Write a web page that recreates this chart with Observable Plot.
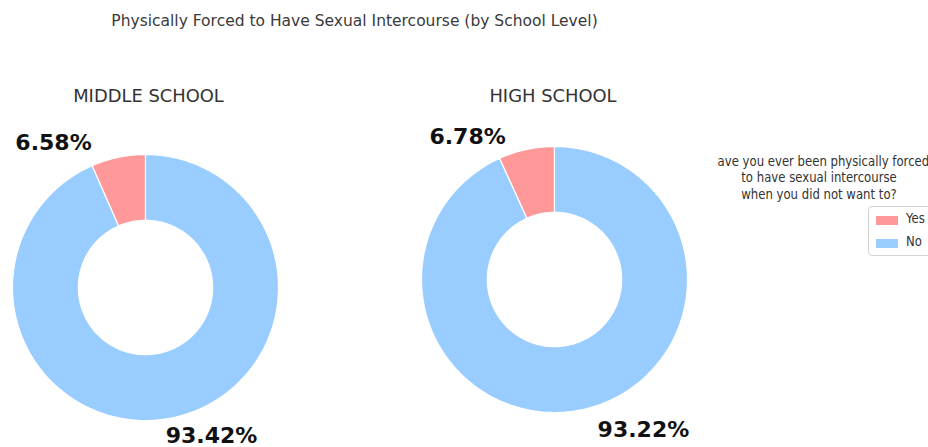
<!DOCTYPE html>
<html>
<head>
<meta charset="utf-8">
<script src="https://cdn.jsdelivr.net/npm/d3@7"></script>
<script src="https://cdn.jsdelivr.net/npm/@observablehq/plot@0.6"></script>
<style>
  html, body { margin: 0; padding: 0; background: #fff; }
  #root { position: relative; width: 928px; height: 447px; overflow: hidden; font-family: "DejaVu Sans", sans-serif; background: #fff; }
  .abs { position: absolute; }
  .title { left: 0; width: 709px; top: 12px; text-align: center; font-size: 15.5px; color: #3a3a3a; white-space: nowrap; }
  .sub { color: #333; white-space: nowrap; transform: translateX(-50%); }
  .legclip { left: 717px; top: 150px; width: 211px; height: 60px; overflow: hidden; }
  .legtitle { position: absolute; left: -98px; top: 3px; width: 400px; text-align: center; font-size: 14px; line-height: 16.3px; color: #333; transform: scaleX(0.835); transform-origin: center; white-space: nowrap; }
  .legbox { left: 868px; top: 206px; width: 80px; height: 50px; border: 1px solid #d4d4d4; border-radius: 4px; box-sizing: border-box; background: #fff; }
  .legitem { position: absolute; left: 7px; height: 16px; font-size: 14px; color: #333; white-space: nowrap; }
  .legitem span.sw { position: absolute; left: 0; top: 4px; width: 22px; height: 9px; }
  .legitem span.lb { position: absolute; left: 30px; top: -2px; transform: scaleX(0.835); transform-origin: left; }
</style>
</head>
<body>
<div id="root"></div>
<script>
// ---- data ----
const schools = ["MIDDLE SCHOOL", "HIGH SCHOOL"];
const answers = ["Yes", "No"];
const yesPct = [6.58, 6.78];
const noPct = [93.42, 93.22];
const legendTitle = ["Have you ever been physically forced", "to have sexual intercourse", "when you did not want to?"];
const chartTitle = "Physically Forced to Have Sexual Intercourse (by School Level)";

// ---- style / layout config ----
const colors = {Yes: "#ff9999", No: "#99ccff"};
const R = 133;            // outer radius px
const half = 165;         // half size of each svg
const innerFrac = 0.505;
const layout = [
  {cx: 145, cy: 287, titleX: 148.5, titleY: 85, titleSize: 17.9},
  {cx: 554, cy: 279, titleX: 553, titleY: 85, titleSize: 17.9}
];
const labelRot = 17, labelDist = 1.27;
const labelNudge = [
  [{dx: -10.5, dy: 3}, {dx: -15.5, dy: 0.5}],
  [{dx: -4.5, dy: 4.5}, {dx: 6.5, dy: 3.5}]
];

const root = document.getElementById("root");
const t = document.createElement("div");
t.className = "abs title"; t.textContent = chartTitle; root.appendChild(t);

function slicesFor(i) {
  const vals = [yesPct[i], noPct[i]];
  const total = d3.sum(vals);
  const pts = [], labels = [];
  let acc = 0;
  vals.forEach((v, k) => {
    const a0 = 90 + 360 * acc / total;
    const a1 = 90 + 360 * (acc + v) / total;
    acc += v;
    const n = Math.max(8, Math.ceil((a1 - a0) / 1.5));
    const ring = [];
    for (let j = 0; j <= n; j++) { const a = (a0 + (a1 - a0) * j / n) * Math.PI / 180; ring.push([Math.cos(a), Math.sin(a)]); }
    for (let j = n; j >= 0; j--) { const a = (a0 + (a1 - a0) * j / n) * Math.PI / 180; ring.push([innerFrac * Math.cos(a), innerFrac * Math.sin(a)]); }
    ring.push(ring[0]);
    ring.forEach(([x, y]) => pts.push({answer: answers[k], x, y}));
    const am = ((a0 + a1) / 2 + labelRot) * Math.PI / 180;
    labels.push({answer: answers[k], x: labelDist * Math.cos(am), y: labelDist * Math.sin(am),
      text: v.toFixed(2) + "%", dx: labelNudge[i][k].dx, dy: labelNudge[i][k].dy});
  });
  return {pts, labels};
}

schools.forEach((s, i) => {
  const L = layout[i];
  const {pts, labels} = slicesFor(i);
  const dom = [-half / R, half / R];
  const marks = answers.map(a => Plot.line(pts.filter(d => d.answer === a), {
    x: "x", y: "y", fill: colors[a], stroke: "white", strokeWidth: 1.2, strokeLinejoin: "miter"
  }));
  labels.forEach(l => marks.push(Plot.text([l], {
    x: "x", y: "y", text: "text", dx: l.dx, dy: l.dy, fontSize: 22, fontWeight: "bold",
    fill: "#111", fontFamily: "DejaVu Sans"
  })));
  const svg = Plot.plot({
    width: 2 * half, height: 2 * half, margin: 0,
    x: {domain: dom, axis: null}, y: {domain: dom, axis: null},
    style: {background: "transparent", overflow: "visible"},
    marks
  });
  svg.style.position = "absolute";
  svg.style.left = (L.cx - half) + "px";
  svg.style.top = (L.cy - half) + "px";
  root.appendChild(svg);
  const st = document.createElement("div");
  st.className = "abs sub"; st.textContent = s;
  st.style.left = L.titleX + "px"; st.style.top = L.titleY + "px"; st.style.fontSize = L.titleSize + "px";
  root.appendChild(st);
});

// legend
const clip = document.createElement("div"); clip.className = "abs legclip";
const lt = document.createElement("div"); lt.className = "legtitle";
lt.innerHTML = legendTitle.join("<br>");
clip.appendChild(lt); root.appendChild(clip);
const box = document.createElement("div"); box.className = "abs legbox";
answers.forEach((a, k) => {
  const it = document.createElement("div"); it.className = "legitem"; it.style.top = (5 + 23 * k) + "px";
  const sw = document.createElement("span"); sw.className = "sw"; sw.style.background = colors[a];
  const lb = document.createElement("span"); lb.className = "lb"; lb.textContent = a;
  it.appendChild(sw); it.appendChild(lb); box.appendChild(it);
});
root.appendChild(box);
</script>
</body>
</html>
